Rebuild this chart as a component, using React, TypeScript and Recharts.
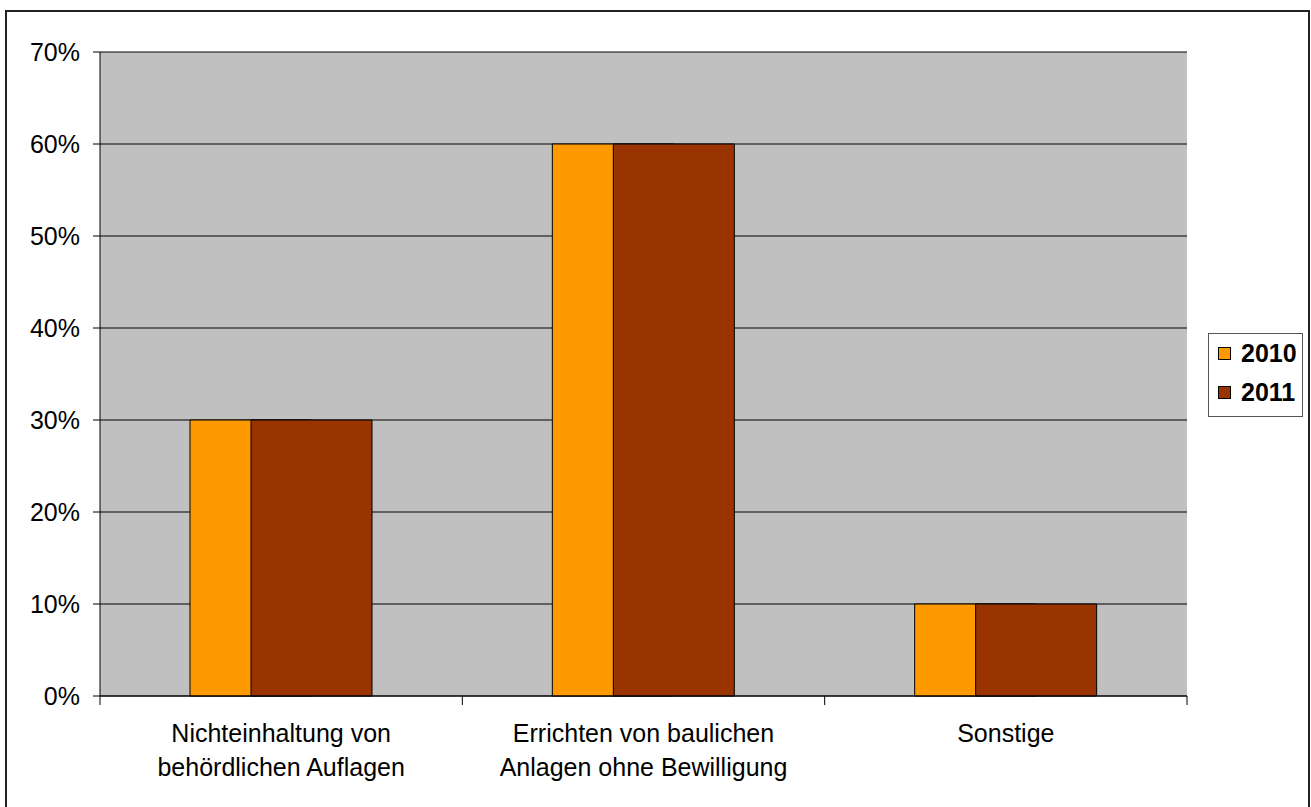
import React from 'react';
import { BarChart, Bar, XAxis, YAxis, CartesianGrid, Legend } from 'recharts';

const categories = [
  'Nichteinhaltung von\nbehördlichen Auflagen',
  'Errichten von baulichen\nAnlagen ohne Bewilligung',
  'Sonstige',
];
const values2010 = [0.3, 0.6, 0.1];
const values2011 = [0.3, 0.6, 0.1];
const yTicks = [0, 0.1, 0.2, 0.3, 0.4, 0.5, 0.6, 0.7];

const seriesColors = { '2010': '#FF9900', '2011': '#993300' };

const data = categories.map((name, i) => ({
  name,
  '2010': values2010[i],
  '2011': values2011[i],
}));

const FONT = '"Liberation Sans", Arial, sans-serif';
const CHART_W = 1296;
const CHART_H = 800;
const MARGIN = { top: 40, right: 116, bottom: 16, left: 0 };
const Y_AXIS_W = 93;
const PLOT_W = CHART_W - MARGIN.left - MARGIN.right - Y_AXIS_W;
const BAND = PLOT_W / categories.length;

interface TickProps {
  x?: number;
  y?: number;
  index?: number;
  payload?: { value: string };
}

// category label in two lines, plus tick marks on the band edges
const CategoryTick = ({ x = 0, y = 0, index = 0, payload }: TickProps) => {
  const lines = String(payload?.value ?? '').split('\n');
  const left = x - BAND / 2;
  const right = x + BAND / 2;
  return (
    <g>
      <line x1={left} x2={left} y1={y - 9} y2={y} stroke="#000" />
      {index === categories.length - 1 && (
        <line x1={right} x2={right} y1={y - 9} y2={y} stroke="#000" />
      )}
      <text x={x} y={y} textAnchor="middle" fontFamily={FONT} fontSize={25} fill="#000">
        {lines.map((l, i) => (
          <tspan key={i} x={x} y={y + 37 + i * 34}>
            {l}
          </tspan>
        ))}
      </text>
    </g>
  );
};

const renderLegend = () => (
  <div
    style={{
      width: 95,
      height: 84,
      border: '1px solid #555',
      background: '#fff',
      boxSizing: 'border-box',
      fontFamily: FONT,
      paddingTop: 0,
    }}
  >
    {(['2010', '2011'] as const).map((k) => (
      <div key={k} style={{ height: 40, display: 'flex', alignItems: 'center', paddingLeft: 9, marginTop: -1 }}>
        <span
          style={{
            display: 'inline-block',
            width: 13,
            height: 13,
            boxSizing: 'border-box',
            border: '1px solid #000',
            background: seriesColors[k],
            marginRight: 10,
          }}
        />
        <span style={{ fontSize: 25, fontWeight: 'bold', color: '#000' }}>{k}</span>
      </div>
    ))}
  </div>
);

export default function App() {
  return (
    <div
      style={{
        position: 'absolute',
        left: 5,
        top: 10,
        width: 1305,
        height: 812,
        border: '2px solid #222',
        boxSizing: 'border-box',
        background: '#fff',
      }}
    >
      <BarChart width={CHART_W} height={CHART_H} data={data} margin={MARGIN} barGap={-60}>
        <CartesianGrid vertical={false} stroke="#000" fill="#C0C0C0" />
        <XAxis
          dataKey="name"
          height={100}
          tickLine={false}
          tickSize={9}
          tickMargin={0}
          axisLine={{ stroke: '#000' }}
          tick={<CategoryTick />}
          interval={0}
        />
        <XAxis
          xAxisId="top"
          dataKey="name"
          orientation="top"
          height={0}
          tick={false}
          tickLine={false}
          axisLine={{ stroke: '#808080', strokeWidth: 2 }}
        />
        <YAxis
          width={Y_AXIS_W}
          domain={[0, 0.7]}
          ticks={yTicks}
          tickFormatter={(v: number) => `${Math.round(v * 100)}%`}
          tickSize={7}
          tickMargin={13}
          tick={{ fontFamily: FONT, fontSize: 25, fill: '#000' }}
          axisLine={{ stroke: '#000' }}
          tickLine={{ stroke: '#000' }}
          interval={0}
        />
        <YAxis
          yAxisId="right"
          orientation="right"
          width={0}
          domain={[0, 0.7]}
          tick={false}
          tickLine={false}
          axisLine={{ stroke: '#808080', strokeWidth: 2 }}
        />
        <Legend
          layout="vertical"
          align="center"
          verticalAlign="middle"
          content={renderLegend}
          wrapperStyle={{ left: 1201, top: 321, width: 95 }}
        />
        <Bar dataKey="2010" fill={seriesColors['2010']} stroke="#000" strokeWidth={1} barSize={121} isAnimationActive={false} />
        <Bar dataKey="2011" fill={seriesColors['2011']} stroke="#000" strokeWidth={1} barSize={121} isAnimationActive={false} />
      </BarChart>
    </div>
  );
}
